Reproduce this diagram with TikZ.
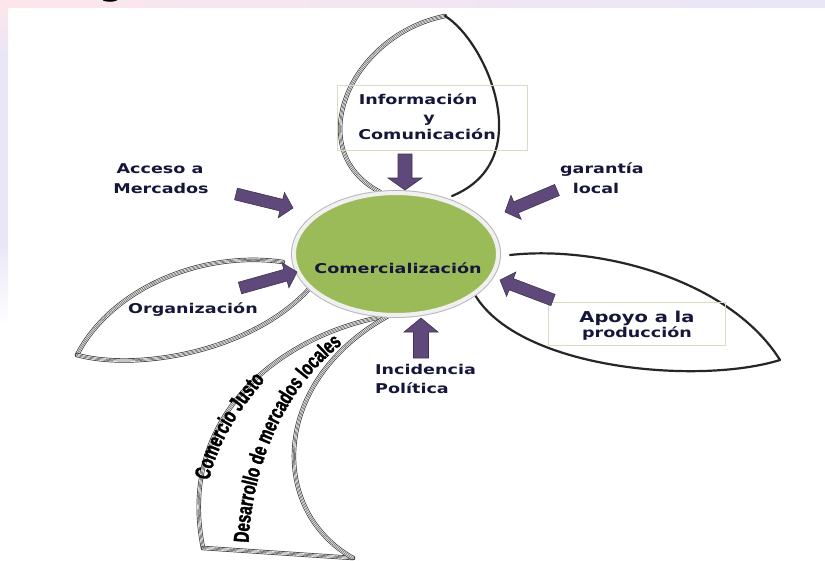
\documentclass[tikz,border=0pt]{standalone}
\usepackage{fontspec}
\usetikzlibrary{calc,decorations.text,shapes.geometric}
\newfontfamily\labelfont{DejaVu Sans}[FakeStretch=1.3]
\newfontfamily\titlefont{DejaVu Sans}
\newfontfamily\ribbonfont{Liberation Sans}[FakeStretch=0.7, FakeBold=1.6]
\definecolor{leafgreen}{HTML}{9BBB59}
\definecolor{arrowpurple}{HTML}{5F497A}
\definecolor{arrowedge}{HTML}{3F3151}
\definecolor{labelink}{HTML}{16163A}
\definecolor{boxline}{HTML}{DDD9C3}
\definecolor{bandpink}{HTML}{FCE6EC}
\definecolor{bandlilac}{HTML}{E8E6F7}

% block arrow: name, tail, tip, half shaft, half head, head length
\newcommand\blockarrow[6]{%
  \coordinate (#1-b) at ($(#3)!#6pt!(#2)$);
  \filldraw[arrowstyle]
    ($(#2)!#4pt!90:(#3)$) -- ($(#1-b)!#4pt!-90:(#2)$) --
    ($(#1-b)!#5pt!-90:(#2)$) -- (#3) --
    ($(#1-b)!#5pt!90:(#2)$) -- ($(#1-b)!#4pt!90:(#2)$) --
    ($(#2)!#4pt!-90:(#3)$) -- cycle;
}

\tikzset{
  cord/.style={line width=4.4pt, draw=black!80, line cap=round,
    postaction={draw=white, line width=3pt},
    postaction={draw=black!65, line width=1.7pt},
    postaction={draw=white, line width=0.5pt}},
  inkline/.style={line width=2.2pt, draw=black!85, line cap=round},
  arrowstyle/.style={fill=arrowpurple, draw=arrowedge, line width=0.6pt, line join=miter},
  lbl/.style={font=\labelfont\bfseries\fontsize{13.5}{16}\selectfont, text=labelink,
    inner sep=0pt, anchor=base},
  lblbig/.style={font=\labelfont\bfseries\fontsize{15}{18}\selectfont, text=labelink,
    inner sep=0pt, anchor=base},
  framebox/.style={draw=boxline, line width=0.8pt},
}

\begin{document}
\begin{tikzpicture}[x=1pt,y=-1pt]
\useasboundingbox (0,0) rectangle (825,560);
\fill[white] (0,0) rectangle (825,560);

% page decoration strips
\shade[left color=bandpink, right color=bandlilac] (0,0) rectangle (825,7);
\shade[top color=bandpink, bottom color=bandlilac] (0,7) rectangle (8,60);
\fill[bandlilac] (0,60) rectangle (8,240);
\shade[top color=bandlilac, bottom color=white] (0,240) rectangle (8,325);
\begin{scope}
  \clip (0,0) rectangle (825,7);
  \node[font=\titlefont\bfseries\fontsize{36}{36}\selectfont, inner sep=0pt, anchor=base] (titleg) at (112,-5.5) {g};
\end{scope}

% petals
% top petal
\draw[cord] (445,16) .. controls (350,35) and (300,150) .. (380,192);
\draw[inkline] (445,16) .. controls (485,40) and (540,160) .. (452,196);
% left petal
\draw[cord] (77,355) .. controls (110,290) and (200,250) .. (283,262);
\draw[cord] (77,355) .. controls (140,372) and (260,350) .. (315,282);
% right petal
\draw[inkline] (510,255) .. controls (600,245) and (730,280) .. (780,360);
\draw[inkline] (780,360) .. controls (700,385) and (520,370) .. (475,295);
% bottom ribbon
\draw[cord] (393,315) .. controls (290,330) and (175,410) .. (203,548);
\draw[cord] (203,548) -- (353,558);
\draw[cord] (353,558) .. controls (268,510) and (270,380) .. (390,315);

% ribbon texts
\path[decorate, decoration={text along path, text align=center,
  text={|\ribbonfont\bfseries\fontsize{22}{22}\selectfont|Comercio Justo}}]
  (205,505) .. controls (210,450) and (240,405) .. (282,362);
\path[decorate, decoration={text along path, text align=center,
  text={|\ribbonfont\bfseries\fontsize{21.5}{22}\selectfont|Desarrollo de mercados locales}}]
  (248,562) .. controls (248,470) and (284,380) .. (358,333);

% central hub
\node[ellipse, minimum width=204pt, minimum height=122pt, inner sep=0pt,
  fill=leafgreen, draw=black!6, line width=4pt,
  preaction={draw=black!28, line width=6pt}] (hub) at (396,254) {};
\node[lbl] (comlabel) at (398,273) {Comercialización};

% frames
\draw[framebox] (337,85) rectangle (527,150);
\draw[framebox] (548,302) rectangle (725,345);

% arrows
\coordinate (infoT) at (405,154);  \coordinate (infoH) at (405,190);
\coordinate (accT) at (236,194);   \coordinate (accH) at (293,208);
\coordinate (garT) at (557,190);   \coordinate (garH) at (505,212);
\coordinate (orgT) at (240,288);   \coordinate (orgH) at (297,272);
\coordinate (apoT) at (553,300);   \coordinate (apoH) at (500,280);
\coordinate (incT) at (421,358);   \coordinate (incH) at (421,318);
\blockarrow{ainfo}{infoT}{infoH}{7}{17}{12}
\blockarrow{aacc}{accT}{accH}{6}{13}{12}
\blockarrow{agar}{garT}{garH}{6}{13}{12}
\blockarrow{aorg}{orgT}{orgH}{6}{13}{12}
\blockarrow{aapo}{apoT}{apoH}{6}{13}{12}
\blockarrow{ainc}{incT}{incH}{7.5}{17}{14}

% labels
\node[lbl] (info1) at (418,104) {Información};
\node[lbl] (info2) at (429,122) {y};
\node[lbl] (info3) at (427,139) {Comunicación};
\node[lbl] (acc1) at (160,173) {Acceso a};
\node[lbl] (acc2) at (161,193) {Mercados};
\node[lbl] (gar1) at (602,173) {garantía};
\node[lbl] (gar2) at (596,193) {local};
\node[lbl] (org) at (193,313) {Organización};
\node[lblbig] (apo1) at (637,322) {Apoyo a la};
\node[lbl] (apo2) at (637,337) {producción};
\node[lbl, anchor=base west] (inc1) at (375,374) {Incidencia};
\node[lbl, anchor=base west] (inc2) at (375,393) {Política};
\end{tikzpicture}
\end{document}
